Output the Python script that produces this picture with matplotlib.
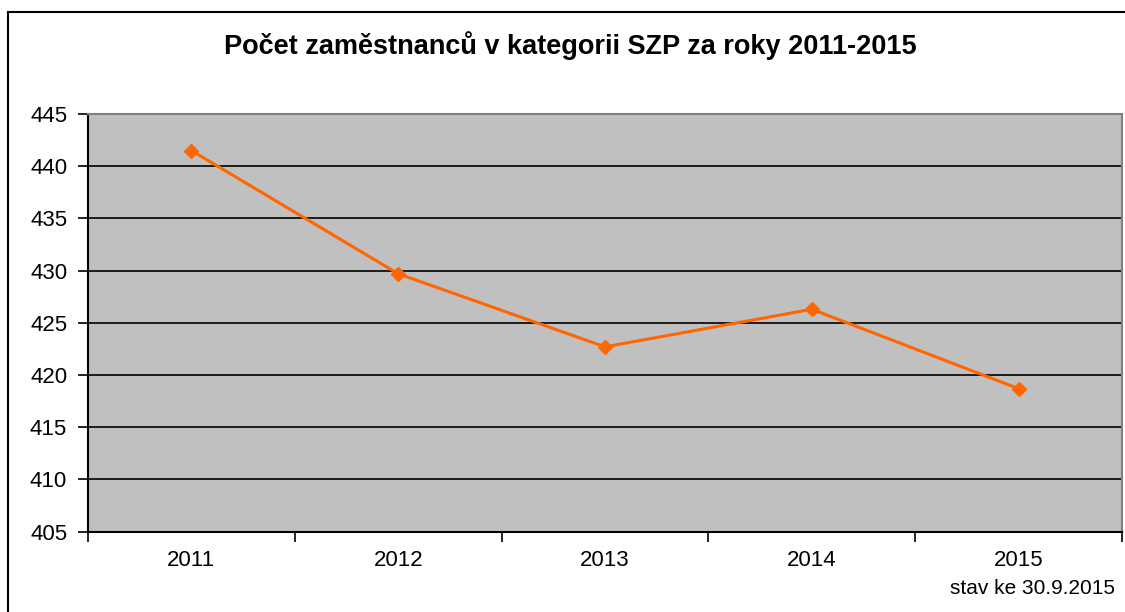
import matplotlib.pyplot as plt
from matplotlib.lines import Line2D

plt.rcParams['font.family'] = ['Liberation Sans', 'DejaVu Sans']

# data
years = ['2011', '2012', '2013', '2014', '2015']
employees = [441.5, 429.7, 422.7, 426.3, 418.7]
yticks = [405, 410, 415, 420, 425, 430, 435, 440, 445]

fig = plt.figure(figsize=(11.25, 6.12), dpi=100)
ax = fig.add_axes([88 / 1125, 1 - 531.7 / 612, (1122 - 88) / 1125, (531.7 - 114) / 612])
ax.set_facecolor('#C0C0C0')

x = list(range(1, len(years) + 1))
ax.plot(x, employees, color='#FF6600', lw=2.2, marker='D', markersize=7.5, zorder=3)

ax.set_ylim(405, 445)
ax.set_yticks(yticks)
ax.set_yticklabels([str(v) for v in yticks])
ax.set_xlim(0.5, len(years) + 0.5)
ax.set_xticks(x)
ax.set_xticklabels(years)
ax.set_xticks([i + 0.5 for i in range(len(years) + 1)], minor=True)
ax.tick_params(axis='x', which='major', length=0, pad=13, labelsize=16)
ax.tick_params(axis='x', which='minor', length=7, width=1.2, direction='out')
ax.tick_params(axis='y', length=7, width=1.2, direction='out', pad=8, labelsize=16)

ax.grid(axis='y', color='black', lw=1.2)
ax.set_axisbelow(True)
for side in ['top', 'right']:
    ax.spines[side].set_color('#808080')
    ax.spines[side].set_linewidth(1.5)
for side in ['left', 'bottom']:
    ax.spines[side].set_color('black')
    ax.spines[side].set_linewidth(1.5)

fig.text(570 / 1125, 1 - 46 / 612, 'Počet zaměstnanců v kategorii SZP za roky 2011-2015',
         ha='center', va='center', fontsize=19.5, fontweight='bold')
fig.text(1032 / 1125, 1 - 588 / 612, 'stav ke 30.9.2015', ha='center', va='center', fontsize=15)

# outer chart border (left and top visible)
fig.add_artist(Line2D([7.5 / 1125, 7.5 / 1125], [0, 1 - 12 / 612], transform=fig.transFigure, color='black', lw=1.5))
fig.add_artist(Line2D([7.5 / 1125, 1], [1 - 12 / 612, 1 - 12 / 612], transform=fig.transFigure, color='black', lw=1.5))

fig.savefig('out.png', dpi=100)
